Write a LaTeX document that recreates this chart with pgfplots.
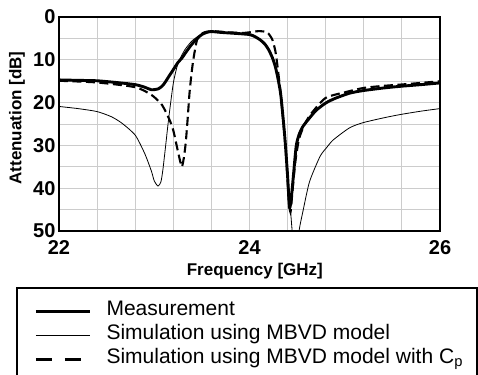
\documentclass[border=0pt]{standalone}
\usepackage{pgfplots}
\pgfplotsset{compat=1.18}
\usepackage{fontspec}
\setmainfont{Liberation Sans}

\begin{document}
\begin{tikzpicture}
\useasboundingbox (0pt,0pt) rectangle (478pt,-374pt);
\begin{axis}[
  at={(59pt,-231pt)}, anchor=south west,
  scale only axis, width=381pt, height=214pt,
  xmin=22, xmax=26, ymin=0, ymax=50, y dir=reverse,
  xtick={22,24,26}, ytick={0,10,20,30,40,50},
  minor xtick={22.4,22.8,23.2,23.6,24.4,24.8,25.2,25.6},
  minor ytick={5,15,25,35,45},
  grid=both,
  grid style={black!20, line width=0.9pt},
  minor grid style={black!20, line width=0.9pt},
  major tick length=0pt, minor tick length=0pt,
  axis line style={line width=2.6pt},
  /pgf/number format/assume math mode=true,
  ticklabel style={font=\fontsize{20}{20}\selectfont\bfseries},
  xticklabel style={yshift=-6pt},
  xlabel={Frequency [GHz]},
  ylabel={Attenuation [dB]},
  label style={font=\fontsize{17}{17}\selectfont\bfseries, inner sep=0pt},
  xlabel style={at={(axis description cs:0.514,-0.1495)}, anchor=north},
  ylabel style={at={(axis description cs:-0.110,0.528)}, anchor=center},
  legend image code/.code={\draw[#1] (0pt,0pt) -- (54pt,0pt);},
  legend cell align=left,
  legend style={at={(-0.0656,-0.318)}, anchor=north west, draw=none, fill=none,
    inner xsep=0pt, inner ysep=0pt, row sep=0pt, column sep=15pt,
    font=\fontsize{21}{21}\selectfont,
    nodes={inner sep=0pt, text height=16pt, text depth=8pt}},
]
% Measurement
\addplot[black, line width=2.9pt, line join=round, smooth, tension=0.4, forget plot] coordinates {
(22.0,14.7) (22.2,14.8) (22.4,14.9) (22.6,15.3) (22.8,15.8) (22.9,16.4)
(22.97,17.0) (23.04,16.8) (23.08,16.2) (23.11,15.4) (23.15,14.0) (23.2,12.3)
(23.25,10.6) (23.29,9.6) (23.34,8.0) (23.39,6.5) (23.45,5.0) (23.5,4.1)
(23.55,3.6) (23.6,3.4) (23.7,3.6) (23.8,3.75) (23.9,3.9) (24.0,4.1)
(24.05,4.5) (24.11,5.3) (24.16,6.3) (24.2,7.6) (24.24,9.5) (24.27,11.5)
(24.3,14.5) (24.33,18.5) (24.37,27.9) (24.4,37.2) (24.42,44.6) (24.44,42)
(24.46,37.3) (24.49,30.2) (24.52,27.5) (24.56,25.6) (24.63,23.6) (24.7,21.8)
(24.8,20.1) (24.9,19.0) (25.05,17.8) (25.19,17.2) (25.4,16.6) (25.58,16.2)
(25.8,15.8) (26.0,15.4)
};
% MBVD
\addplot[black, line width=0.8pt, smooth, tension=0.4, forget plot] coordinates {
(22.0,20.9) (22.2,21.4) (22.4,22.1) (22.55,23.3) (22.66,24.8) (22.8,27.6)
(22.9,31.9) (22.97,36.0) (23.0,38.3) (23.04,39.5) (23.07,38.5) (23.09,35.8)
(23.12,30.0) (23.15,24.0) (23.2,15.5) (23.25,10.8) (23.32,7.7) (23.4,5.5)
(23.5,4.0) (23.6,3.5) (23.8,3.7) (24.0,4.0) (24.11,5.2) (24.2,7.5)
(24.27,11.5) (24.33,18.5) (24.38,30.0) (24.42,42.0) (24.45,50.5) (24.485,57)
(24.52,50.0) (24.56,45.5) (24.63,38.5) (24.74,32.6) (24.81,30.5) (24.88,28.7)
(25.05,25.9) (25.19,24.7) (25.4,23.6) (25.58,22.8) (25.8,22.0) (26.0,21.4)
};
% MBVD with Cp
\addplot[black, line width=2.1pt, dash pattern=on 9pt off 4.5pt, smooth, tension=0.4, forget plot] coordinates {
(22.0,14.9) (22.4,15.3) (22.8,16.4) (22.97,18.2) (23.08,20.5) (23.16,24.0)
(23.2,26.5) (23.23,29.5) (23.27,33.5) (23.29,35.0) (23.31,33.0) (23.33,29.5)
(23.35,24.0) (23.37,17.8) (23.39,13.5) (23.41,10.0) (23.45,5.3) (23.51,3.75)
(23.6,3.3) (23.8,3.6) (23.95,3.7) (24.02,3.5) (24.1,3.3) (24.18,3.5)
(24.21,4.2) (24.24,5.3) (24.27,7.8) (24.29,10.8) (24.33,18.5) (24.38,31.0)
(24.41,42.0) (24.43,45.6) (24.45,41.0) (24.48,34.0) (24.52,28.5) (24.58,25.0)
(24.65,22.5) (24.8,18.9) (25.0,17.6) (25.19,16.6) (25.4,16.1) (25.58,15.8)
(25.8,15.4) (26.0,15.0)
};
\addlegendimage{black, line width=3.3pt}
\addlegendentry{Measurement}
\addlegendimage{black, line width=1.2pt}
\addlegendentry{Simulation using MBVD model}
\addlegendimage{black, line width=3.3pt, dash pattern=on 16pt off 13pt}
\addlegendentry{Simulation using MBVD model with C\textsubscript{p}}
\end{axis}
\draw[line width=1.3pt] (17pt,-288pt) rectangle (477pt,-430pt);
\end{tikzpicture}
\end{document}
